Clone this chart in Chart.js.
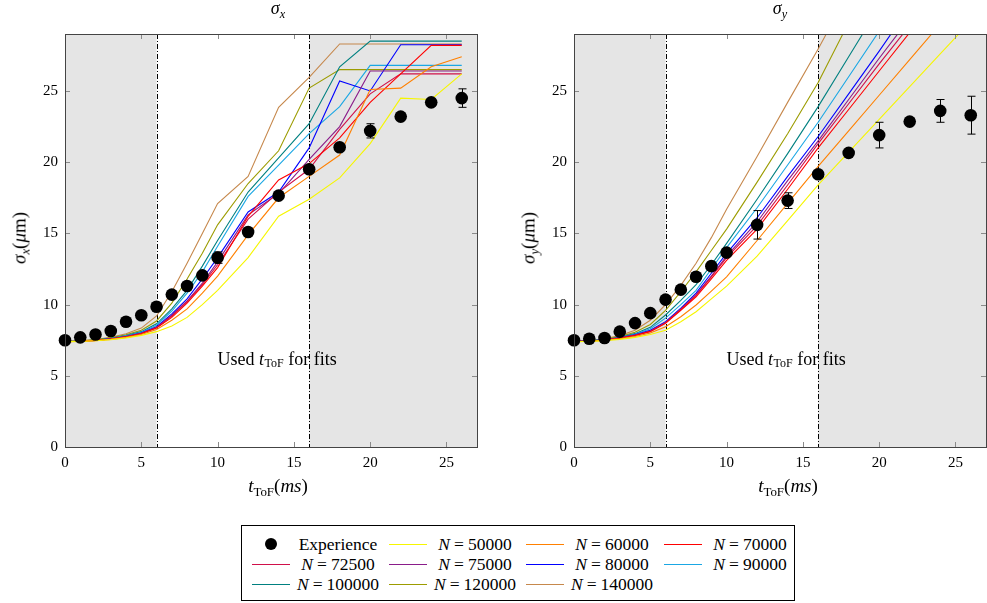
<!DOCTYPE html>
<html>
<head>
<meta charset="utf-8">
<script src="https://cdn.jsdelivr.net/npm/chart.js@4.4.0/dist/chart.umd.min.js"></script>
<style>
  body { margin: 0; width: 987px; height: 603px; position: relative; overflow: hidden; background: #fff;
         font-family: "Liberation Serif", serif; color: #000; }
  canvas { position: absolute; top: 0; }
  .ttl { position: absolute; font-size: 18px; transform: translate(-50%, -50%); white-space: nowrap; }
  .ylab { position: absolute; font-size: 19px; transform: translate(-50%, -50%) rotate(-90deg); white-space: nowrap; }
  .xlab { position: absolute; font-size: 19px; transform: translate(-50%, -50%); white-space: nowrap; }
  #legend { position: absolute; left: 241px; top: 525px; width: 552px; height: 74px; border: 1px solid #000; }
  .item { position: absolute; height: 20px; display: flex; align-items: center; font-size: 17.5px; white-space: nowrap; }
  .sample { width: 38px; height: 0; border-top: 1.3px solid; }
  .dot { width: 38px; display: flex; justify-content: center; }
  .dot span { width: 12px; height: 12px; border-radius: 50%; background: #000; }
  .lbl { width: 96px; text-align: center; }
  .eq { margin: 0 4px; }
  i { font-style: italic; }
  sub { font-size: 68%; vertical-align: -4px; font-style: normal; }
</style>
</head>
<body>
<canvas id="cx" width="490" height="480" style="left:0"></canvas>
<canvas id="cy" width="490" height="480" style="left:509px"></canvas>

<div class="ttl" style="left:278px;top:10px"><i>σ<sub style="font-style:italic">x</sub></i></div>
<div class="ttl" style="left:780px;top:10px"><i>σ<sub style="font-style:italic">y</sub></i></div>
<div class="ylab" style="left:21px;top:238px"><i>σ<sub style="font-style:italic">x</sub></i>(<i>μ</i>m)</div>
<div class="ylab" style="left:530px;top:238px"><i>σ<sub style="font-style:italic">y</sub></i>(<i>μ</i>m)</div>
<div class="xlab" style="left:278px;top:487px"><i>t</i><sub>ToF</sub>(<i>ms</i>)</div>
<div class="xlab" style="left:788px;top:487px"><i>t</i><sub>ToF</sub>(<i>ms</i>)</div>

<div id="legend"></div>

<script>
// time of flight (ms)
const tGrid = [0, 1, 2, 3, 4, 5, 6, 7, 8, 9, 10, 12, 14, 16, 18, 20, 22, 24, 26];
const xTicks = [0, 5, 10, 15, 20, 25];
const yTicks = [0, 5, 10, 15, 20, 25];
const fitRange = [6, 16];

// experiment
const expSx    = [7.5, 7.7, 7.9, 8.15, 8.8, 9.25, 9.85, 10.7, 11.3, 12.05, 13.3, 15.1, 17.65, 19.5, 21.05, 22.2, 23.2, 24.2, 24.5];
const expSxErr = [0, 0, 0, 0, 0, 0, 0, 0, 0, 0, 0.4, 0, 0.1, 0, 0, 0.5, 0, 0, 0.65];
const expSy    = [7.5, 7.6, 7.65, 8.1, 8.7, 9.4, 10.35, 11.05, 11.95, 12.7, 13.65, 15.6, 17.3, 19.15, 20.65, 21.9, 22.85, 23.6, 23.3];
const expSyErr = [0, 0, 0, 0, 0, 0, 0, 0, 0, 0.3, 0, 1.0, 0.55, 0, 0, 0.9, 0.2, 0.8, 1.33];

// simulations, sigma_x
const sx50000  = [7.4, 7.42, 7.46, 7.54, 7.66, 7.84, 8.1, 8.5, 9.1, 10.0, 11.0, 13.3, 16.2, 17.4, 18.9, 21.3, 24.5, 24.4, 26.2];
const sx60000  = [7.4, 7.42, 7.47, 7.56, 7.7, 7.9, 8.25, 8.9, 9.7, 10.8, 12.0, 14.9, 17.5, 19.0, 20.5, 25.1, 25.2, 26.7, 27.4];
const sx70000  = [7.4, 7.43, 7.48, 7.58, 7.73, 7.95, 8.35, 9.1, 10.1, 11.3, 12.6, 16.2, 18.75, 19.9, 21.7, 24.2, 26.2, 28.2, 28.2];
const sx72500  = [7.4, 7.43, 7.48, 7.58, 7.74, 7.97, 8.38, 9.2, 10.2, 11.4, 12.8, 16.0, 17.9, 19.5, 22.3, 24.8, 26.2, 26.2, 26.2];
const sx75000  = [7.4, 7.43, 7.49, 7.59, 7.75, 7.99, 8.4, 9.25, 10.25, 11.5, 13.0, 16.3, 17.8, 20.2, 22.5, 26.4, 26.4, 26.4, 26.4];
const sx80000  = [7.4, 7.43, 7.49, 7.6, 7.76, 8.0, 8.45, 9.35, 10.4, 11.8, 13.3, 16.5, 17.9, 21.0, 25.7, 25.0, 28.25, 28.25, 28.25];
const sx90000  = [7.4, 7.44, 7.5, 7.62, 7.8, 8.06, 8.55, 9.55, 10.8, 12.3, 14.1, 17.6, 19.8, 22.0, 23.9, 26.8, 26.8, 26.8, 26.8];
const sx100000 = [7.4, 7.44, 7.51, 7.64, 7.83, 8.1, 8.65, 9.7, 11.0, 12.7, 14.5, 17.9, 20.3, 22.7, 26.7, 28.5, 28.5, 28.5, 28.5];
const sx120000 = [7.4, 7.45, 7.53, 7.67, 7.88, 8.2, 8.85, 10.1, 11.8, 13.6, 15.6, 18.5, 20.8, 25.2, 26.5, 26.5, 26.5, 26.5, 26.5];
const sx140000 = [7.4, 7.46, 7.55, 7.71, 7.95, 8.35, 9.2, 10.9, 12.9, 15.0, 17.1, 19.0, 23.85, 25.95, 28.3, 28.3, 28.3, 28.3, 28.3];

// simulations, sigma_y
const sy50000  = [7.4, 7.42, 7.47, 7.56, 7.7, 7.9, 8.2, 8.8, 9.5, 10.4, 11.3, 13.4, 15.9, 18.4, 20.7, 23.0, 25.3, 27.6, 29.9];
const sy60000  = [7.4, 7.43, 7.49, 7.6, 7.76, 8.0, 8.45, 9.15, 9.97, 10.95, 11.95, 14.5, 17.1, 19.7, 22.2, 24.7, 27.2, 29.7, 32.2];
const sy70000  = [7.4, 7.44, 7.51, 7.64, 7.83, 8.1, 8.68, 9.6, 10.55, 11.8, 13.1, 15.3, 18.1, 21.0, 23.7, 26.4, 29.1, 31.8, 34.5];
const sy72500  = [7.4, 7.44, 7.51, 7.65, 7.84, 8.12, 8.72, 9.65, 10.65, 11.95, 13.3, 15.55, 18.4, 21.3, 24.1, 26.9, 29.6, 32.4, 35.2];
const sy75000  = [7.4, 7.44, 7.52, 7.66, 7.86, 8.15, 8.75, 9.7, 10.7, 12.0, 13.4, 15.8, 18.7, 21.5, 24.4, 27.3, 30.1, 33.0, 35.9];
const sy80000  = [7.4, 7.44, 7.52, 7.67, 7.88, 8.2, 8.8, 9.75, 10.8, 12.2, 13.6, 16.1, 19.0, 21.8, 24.8, 27.8, 30.9, 34.0, 37.0];
const sy90000  = [7.4, 7.45, 7.53, 7.69, 7.92, 8.3, 9.05, 10.0, 11.0, 12.5, 14.0, 16.8, 19.8, 22.8, 26.0, 29.2, 32.4, 35.6, 38.8];
const sy100000 = [7.4, 7.45, 7.54, 7.71, 7.96, 8.4, 9.27, 10.3, 11.4, 12.8, 14.3, 17.4, 20.6, 23.9, 27.4, 30.9, 34.4, 37.9, 41.4];
const sy120000 = [7.4, 7.46, 7.56, 7.75, 8.05, 8.6, 9.6, 10.9, 12.3, 13.8, 15.3, 18.6, 22.0, 25.6, 29.8, 34.0, 38.2, 42.4, 46.6];
const sy140000 = [7.4, 7.47, 7.6, 7.82, 8.2, 8.9, 10.0, 11.35, 12.9, 14.7, 16.7, 20.4, 24.2, 27.95, 31.9, 35.8, 39.7, 43.6, 47.5];

const simLabels = ['50000', '60000', '70000', '72500', '75000', '80000', '90000', '100000', '120000', '140000'];
const simColors = ['#f6f600', '#ff8000', '#ff0000', '#d0104a', '#8a1c8a', '#0000ff', '#1aa7e4', '#008080', '#9c9c00', '#c6884c'];
const simX = [sx50000, sx60000, sx70000, sx72500, sx75000, sx80000, sx90000, sx100000, sx120000, sx140000];
const simY = [sy50000, sy60000, sy70000, sy72500, sy75000, sy80000, sy90000, sy100000, sy120000, sy140000];

const pts = arr => tGrid.map((t, i) => ({ x: t, y: arr[i] }));

const decor = {
  id: 'decor',
  beforeDatasetsDraw(chart) {
    const { ctx, chartArea: a, scales: { x, y } } = chart;
    const x0 = x.getPixelForValue(fitRange[0]), x1 = x.getPixelForValue(fitRange[1]);
    ctx.save();
    ctx.fillStyle = '#e5e5e5';
    ctx.fillRect(a.left, a.top, x0 - a.left, a.bottom - a.top);
    ctx.fillRect(x1, a.top, a.right - x1, a.bottom - a.top);
    ctx.strokeStyle = '#000';
    ctx.lineWidth = 1;
    ctx.setLineDash([5, 2, 1, 2]);
    [x0, x1].forEach(px => {
      const p = Math.round(px) + 0.5;
      ctx.beginPath(); ctx.moveTo(p, a.top); ctx.lineTo(p, a.bottom); ctx.stroke();
    });
    ctx.setLineDash([]);
    // label inside the fit window
    let tx = x.getPixelForValue(10), ty = y.getPixelForValue(6.1);
    ctx.fillStyle = '#000';
    ctx.textBaseline = 'middle';
    ctx.font = '18px "Liberation Serif"';
    ctx.fillText('Used ', tx, ty); tx += ctx.measureText('Used ').width;
    ctx.font = 'italic 18px "Liberation Serif"';
    ctx.fillText('t', tx, ty); tx += ctx.measureText('t').width + 0.5;
    ctx.font = '12px "Liberation Serif"';
    ctx.fillText('ToF', tx, ty + 4); tx += ctx.measureText('ToF').width;
    ctx.font = '18px "Liberation Serif"';
    ctx.fillText(' for fits', tx, ty);
    ctx.restore();
  },
  afterDatasetsDraw(chart, args, opts) {
    const { ctx, scales: { x, y } } = chart;
    ctx.save();
    ctx.strokeStyle = '#000';
    ctx.lineWidth = 1;
    opts.err.forEach((e, i) => {
      if (!e) return;
      const px = Math.round(x.getPixelForValue(tGrid[i])) + 0.5;
      const top = y.getPixelForValue(opts.val[i] + e), bot = y.getPixelForValue(opts.val[i] - e);
      ctx.beginPath();
      ctx.moveTo(px, top); ctx.lineTo(px, bot);
      ctx.moveTo(px - 4, top); ctx.lineTo(px + 4, top);
      ctx.moveTo(px - 4, bot); ctx.lineTo(px + 4, bot);
      ctx.stroke();
    });
    ctx.restore();
  },
  afterDraw(chart) {
    const { ctx, chartArea: a, scales: { x, y } } = chart;
    ctx.save();
    ctx.strokeStyle = '#8a8a8a';
    ctx.lineWidth = 1;
    ctx.beginPath();
    xTicks.forEach(v => {
      const p = Math.round(x.getPixelForValue(v)) + 0.5;
      ctx.moveTo(p, a.bottom); ctx.lineTo(p, a.bottom - 5);
      ctx.moveTo(p, a.top); ctx.lineTo(p, a.top + 5);
    });
    yTicks.forEach(v => {
      const p = Math.round(y.getPixelForValue(v)) + 0.5;
      ctx.moveTo(a.left, p); ctx.lineTo(a.left + 5, p);
      ctx.moveTo(a.right, p); ctx.lineTo(a.right - 5, p);
    });
    ctx.stroke();
    ctx.strokeStyle = '#444';
    ctx.strokeRect(Math.round(a.left) + 0.5, Math.round(a.top) + 0.5, Math.round(a.right - a.left), Math.round(a.bottom - a.top));
    ctx.restore();
  }
};

function makeChart(id, expVals, expErr, sims) {
  const datasets = [{
    label: 'Experience', data: pts(expVals), showLine: false, clip: false,
    pointRadius: 6.3, pointBackgroundColor: '#000', pointBorderWidth: 0, borderColor: '#000'
  }];
  sims.forEach((s, k) => datasets.push({
    label: 'N = ' + simLabels[k], data: pts(s), borderColor: simColors[k],
    borderWidth: 1.1, pointRadius: 0, tension: 0, fill: false
  }));
  return new Chart(document.getElementById(id), {
    type: 'line',
    data: { datasets },
    options: {
      responsive: false, animation: false, devicePixelRatio: 1,
      layout: { padding: { left: 0, top: 34, right: 13, bottom: 3 } },
      plugins: { legend: { display: false }, tooltip: { enabled: false }, decor: { err: expErr, val: expVals } },
      scales: {
        x: {
          type: 'linear', min: 0, max: 27,
          afterBuildTicks: s => { s.ticks = xTicks.map(v => ({ value: v })); },
          afterFit: s => { s.height = 30; },
          grid: { display: false, drawTicks: false }, border: { display: false },
          ticks: { color: '#000', padding: 7, maxRotation: 0, font: { family: 'Liberation Serif', size: 15 } }
        },
        y: {
          min: 0, max: 29,
          afterBuildTicks: s => { s.ticks = yTicks.map(v => ({ value: v })); },
          afterFit: s => { s.width = 65; },
          grid: { display: false, drawTicks: false }, border: { display: false },
          ticks: { color: '#000', padding: 7, font: { family: 'Liberation Serif', size: 15 } }
        }
      }
    },
    plugins: [decor]
  });
}

makeChart('cx', expSx, expSxErr, simX);
makeChart('cy', expSy, expSyErr, simY);

// legend
const legend = document.getElementById('legend');
const colLeft = [10, 147, 284, 422];
const rowTop = [8, 28, 48];
const entries = [{ name: 'Experience', dot: true }].concat(simLabels.map((l, k) => ({ name: l, color: simColors[k] })));
entries.forEach((e, i) => {
  const d = document.createElement('div');
  d.className = 'item';
  d.style.left = colLeft[i % 4] + 'px';
  d.style.top = rowTop[Math.floor(i / 4)] + 'px';
  const mark = e.dot ? '<div class="dot"><span></span></div>'
                     : '<div class="sample" style="border-color:' + e.color + '"></div>';
  const text = e.dot ? 'Experience' : '<i>N</i><span class="eq">=</span>' + e.name;
  d.innerHTML = mark + '<div class="lbl">' + text + '</div>';
  legend.appendChild(d);
});
</script>
</body>
</html>
